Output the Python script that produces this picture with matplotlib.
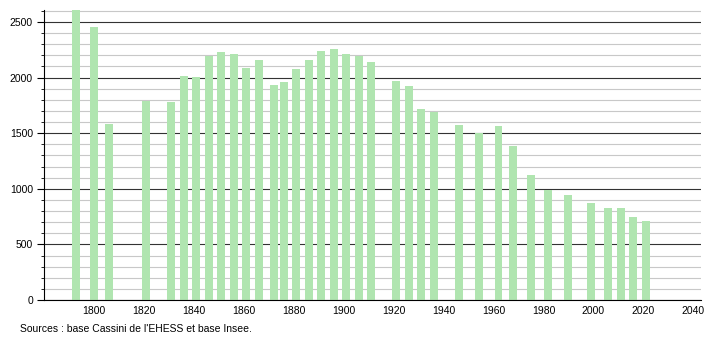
import numpy as np
import matplotlib.pyplot as plt
from matplotlib.ticker import MultipleLocator

plt.rcParams['font.family'] = ['Liberation Sans', 'DejaVu Sans']

years = [1793, 1800, 1806, 1821, 1831, 1836, 1841, 1846, 1851, 1856,
         1861, 1866, 1872, 1876, 1881, 1886, 1891, 1896, 1901, 1906,
         1911, 1921, 1926, 1931, 1936, 1946, 1954, 1962, 1968, 1975,
         1982, 1990, 1999, 2006, 2011, 2016, 2021]
population = [2620, 2452, 1583, 1792, 1780, 2014, 2002, 2197, 2227, 2209,
              2083, 2158, 1933, 1960, 2074, 2158, 2239, 2257, 2212, 2197,
              2140, 1969, 1924, 1717, 1693, 1571, 1499, 1565, 1385, 1124,
              989, 944, 875, 827, 827, 746, 710]
source_text = "Sources : base Cassini de l'EHESS et base Insee."

fig = plt.figure(figsize=(7.1, 3.4), dpi=100)
ax = fig.add_axes([0.062, 0.1176, 0.925, 0.853])

ax.bar(years, population, width=3.2, color='#b0e5b0', zorder=3)

ax.set_xlim(1780, 2043)
ax.set_ylim(0, 2608)
ax.xaxis.set_major_locator(MultipleLocator(20))
ax.set_xticks(range(1800, 2041, 20))
ax.yaxis.set_major_locator(MultipleLocator(500))
ax.yaxis.set_minor_locator(MultipleLocator(100))

ax.grid(axis='y', which='minor', color='#c8c8c8', linewidth=0.8, zorder=1)
ax.grid(axis='y', which='major', color='#333333', linewidth=0.8, zorder=2)

for s in ['top', 'right']:
    ax.spines[s].set_visible(False)
ax.spines['left'].set_linewidth(0.8)
ax.spines['bottom'].set_linewidth(0.8)
ax.spines['left'].set_zorder(4)
ax.spines['bottom'].set_zorder(4)

ax.tick_params(axis='x', length=0, labelsize=7.5, pad=4)
ax.tick_params(axis='y', which='major', length=5, width=0.8, labelsize=7.5, pad=3)
ax.tick_params(axis='y', which='minor', length=2.5, width=0.6)

fig.text(20 / 710, 1 - 329 / 340, source_text, fontsize=7.5, va='center', ha='left')

fig.savefig('out.png', dpi=100)
